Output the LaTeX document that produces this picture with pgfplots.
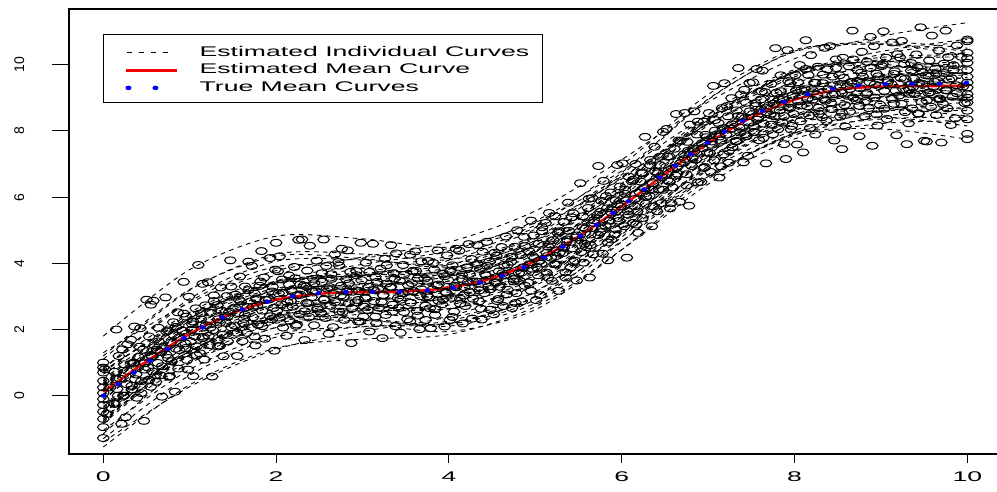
\documentclass[border=0pt]{standalone}
\usepackage{pgfplots}
\pgfplotsset{compat=1.18}
\usepackage{fontspec}
\setmainfont{Liberation Sans}
\usepackage{graphicx}
\pgfplotsset{
  indiv/.style={black, line width=0.9pt, dash pattern=on 4.5pt off 4.5pt, smooth, no markers,
    legend image code/.code={\path[draw=none,fill=none] (-10pt,-2pt) -- (51pt,-2pt); \draw[black, line width=0.9pt, dash pattern=on 5pt off 7pt] (1pt,-2pt) -- (47pt,-2pt);}},
  indivf/.style={indiv, forget plot},
  obs/.style={only marks, mark=o, mark size=3.4pt, mark options={xscale=1.7, line width=1pt, black}, forget plot},
}
\begin{document}
\begin{tikzpicture}
\path[use as bounding box] (-69pt,-37pt) rectangle (928pt,454pt);
\begin{axis}[
  at={(0pt,0pt)}, anchor=south west,
  scale only axis, width=932.6pt, height=445pt,
  xmin=-0.397, xmax=10.397, ymin=-1.761, ymax=11.683,
  axis line style={line width=1.1pt},
  tick pos=left, tick align=outside,
  xtick={0,2,4,6,8,10}, ytick={0,2,4,6,8,10},
  minor tick num=0,
  xtick style={line width=0.9pt, black, /pgfplots/major tick length=9pt},
  ytick style={line width=0.9pt, black, /pgfplots/major tick length=17pt},
  ticklabel style={font=\fontsize{14}{16}\selectfont},
  xticklabel={\scalebox{1.9}[1]{\pgfmathprintnumber[assume math mode=true]{\tick}}},
  yticklabel={\pgfmathprintnumber[assume math mode=true]{\tick}},
  xticklabel style={anchor=center, yshift=-18pt},
  yticklabel style={anchor=center, xshift=-45.5pt, rotate=90},
  legend cell align=left,
  legend style={at={(0.0365,0.9438)}, anchor=north west, draw=black, line width=0.8pt, fill=white,
    inner xsep=13pt, inner ysep=10pt, row sep=4.5pt, column sep=21pt,
    font=\fontsize{14}{16}\selectfont,
    nodes={inner sep=0pt, text height=12pt, text depth=1pt}},
]
% observed data points
\addplot[obs] coordinates {
(0,-1.28)(0,-0.95)(0,-0.70)(0,-0.48)(0,-0.28)(0,-0.10)(0,0.08)(0,0.25)(0,0.45)(0,0.70)(0,0.85)(0,1.00)
(0.21,-0.85)(0.26,-0.65)(0.12,-0.22)(0.23,0.00)(0.16,0.20)(0.27,0.35)(0.19,0.52)(0.13,0.72)(0.24,0.95)(0.18,1.20)(0.28,1.55)(0.15,2.00)
(0.47,-0.76)(0.39,-0.06)(0.33,0.19)(0.44,0.44)(0.38,0.64)(0.48,0.79)(0.35,0.97)(0.41,1.17)(0.46,1.39)(0.32,1.69)(0.43,2.04)(0.36,2.09)
(0.68,-0.03)(0.55,0.27)(0.61,0.42)(0.66,0.62)(0.52,0.85)(0.63,0.99)(0.56,1.19)(0.67,1.32)(0.59,1.52)(0.53,1.79)(0.64,2.05)(0.58,2.87)
(0.83,0.12)(0.76,0.57)(0.87,0.82)(0.79,1.04)(0.73,1.24)(0.84,1.42)(0.78,1.60)(0.88,1.77)(0.75,1.97)(0.81,2.22)(0.86,2.52)(0.72,2.97)
(1.04,0.59)(0.98,0.79)(1.08,1.22)(0.95,1.44)(1.01,1.64)(1.06,1.79)(0.92,1.96)(1.03,2.16)(0.96,2.39)(1.07,2.64)(0.99,2.99)(0.93,3.44)
(1.26,0.58)(1.12,1.28)(1.23,1.53)(1.16,1.78)(1.27,1.98)(1.19,2.13)(1.13,2.31)(1.24,2.51)(1.18,2.73)(1.28,3.03)(1.15,3.38)(1.21,3.43)
(1.39,1.19)(1.33,1.49)(1.44,1.64)(1.38,1.84)(1.48,2.07)(1.35,2.21)(1.41,2.41)(1.46,2.54)(1.32,2.74)(1.43,3.01)(1.36,3.27)(1.47,4.09)
(1.55,1.20)(1.61,1.65)(1.66,1.90)(1.52,2.12)(1.63,2.32)(1.56,2.50)(1.67,2.68)(1.59,2.85)(1.53,3.05)(1.64,3.30)(1.58,3.60)(1.68,4.05)
(1.76,1.52)(1.87,1.72)(1.79,2.15)(1.73,2.37)(1.84,2.57)(1.78,2.72)(1.88,2.89)(1.75,3.09)(1.81,3.32)(1.86,3.57)(1.72,3.92)(1.83,4.37)
(1.98,1.36)(2.08,2.06)(1.95,2.31)(2.01,2.56)(2.06,2.76)(1.92,2.91)(2.03,3.09)(1.96,3.29)(2.07,3.51)(1.99,3.81)(1.93,4.16)(2.04,4.21)
(2.12,1.81)(2.23,2.11)(2.16,2.26)(2.27,2.46)(2.19,2.69)(2.13,2.83)(2.24,3.03)(2.18,3.16)(2.28,3.36)(2.15,3.63)(2.21,3.89)(2.26,4.71)
(2.33,1.68)(2.44,2.13)(2.38,2.38)(2.48,2.60)(2.35,2.80)(2.41,2.98)(2.46,3.16)(2.32,3.33)(2.43,3.53)(2.36,3.78)(2.47,4.08)(2.39,4.53)
(2.61,1.87)(2.66,2.07)(2.52,2.50)(2.63,2.72)(2.56,2.92)(2.67,3.07)(2.59,3.24)(2.53,3.44)(2.64,3.67)(2.58,3.92)(2.68,4.27)(2.55,4.72)
(2.87,1.59)(2.79,2.29)(2.73,2.54)(2.84,2.79)(2.78,2.99)(2.88,3.14)(2.75,3.32)(2.81,3.52)(2.86,3.74)(2.72,4.04)(2.83,4.39)(2.76,4.44)
(3.08,1.94)(2.95,2.24)(3.01,2.39)(3.06,2.59)(2.92,2.82)(3.03,2.96)(2.96,3.16)(3.07,3.29)(2.99,3.49)(2.93,3.76)(3.04,4.02)(2.98,4.62)
(3.23,1.74)(3.16,2.19)(3.27,2.44)(3.19,2.66)(3.13,2.86)(3.24,3.04)(3.18,3.22)(3.28,3.39)(3.15,3.59)(3.21,3.84)(3.26,4.14)(3.12,4.59)
(3.44,1.90)(3.38,2.10)(3.48,2.53)(3.35,2.75)(3.41,2.95)(3.46,3.10)(3.32,3.27)(3.43,3.47)(3.36,3.70)(3.47,3.95)(3.39,4.30)(3.33,4.55)
(3.66,2.01)(3.52,2.31)(3.63,2.56)(3.56,2.81)(3.67,3.01)(3.59,3.16)(3.53,3.34)(3.64,3.54)(3.58,3.76)(3.68,4.06)(3.55,4.26)(3.61,4.36)
(3.79,2.04)(3.73,2.29)(3.84,2.44)(3.78,2.64)(3.88,2.87)(3.75,3.01)(3.81,3.21)(3.86,3.34)(3.72,3.54)(3.83,3.81)(3.76,4.07)(3.87,4.39)
(3.95,2.09)(4.01,2.29)(4.06,2.54)(3.92,2.76)(4.03,2.96)(3.96,3.14)(4.07,3.32)(3.99,3.49)(3.93,3.69)(4.04,3.94)(3.98,4.24)(4.08,4.44)
(4.16,2.18)(4.27,2.33)(4.19,2.71)(4.13,2.93)(4.24,3.13)(4.18,3.28)(4.28,3.45)(4.15,3.65)(4.21,3.88)(4.26,4.13)(4.12,4.38)(4.23,4.58)
(4.38,2.30)(4.48,2.60)(4.35,2.85)(4.41,3.10)(4.46,3.30)(4.32,3.45)(4.43,3.63)(4.36,3.83)(4.47,4.05)(4.39,4.35)(4.33,4.55)(4.44,4.65)
(4.52,2.46)(4.63,2.71)(4.56,2.86)(4.67,3.06)(4.59,3.29)(4.53,3.43)(4.64,3.63)(4.58,3.76)(4.68,3.96)(4.55,4.23)(4.61,4.49)(4.66,4.81)
(4.73,2.65)(4.84,2.85)(4.78,3.10)(4.88,3.32)(4.75,3.52)(4.81,3.70)(4.86,3.88)(4.72,4.05)(4.83,4.25)(4.76,4.50)(4.87,4.80)(4.79,5.00)
(5.01,2.89)(5.06,3.04)(4.92,3.42)(5.03,3.64)(4.96,3.84)(5.07,3.99)(4.99,4.16)(4.93,4.36)(5.04,4.59)(4.98,4.84)(5.08,5.09)(4.95,5.29)
(5.27,3.17)(5.19,3.47)(5.13,3.72)(5.24,3.97)(5.18,4.17)(5.28,4.32)(5.15,4.50)(5.21,4.70)(5.26,4.92)(5.12,5.22)(5.23,5.42)(5.16,5.52)
(5.48,3.48)(5.35,3.73)(5.41,3.88)(5.46,4.08)(5.32,4.31)(5.43,4.45)(5.36,4.65)(5.47,4.78)(5.39,4.98)(5.33,5.25)(5.44,5.51)(5.38,5.83)
(5.63,3.57)(5.56,4.02)(5.67,4.27)(5.59,4.49)(5.53,4.69)(5.64,4.87)(5.58,5.05)(5.68,5.22)(5.55,5.42)(5.61,5.67)(5.66,5.97)(5.52,6.42)
(5.84,4.09)(5.78,4.29)(5.88,4.72)(5.75,4.94)(5.81,5.14)(5.86,5.29)(5.72,5.46)(5.83,5.66)(5.76,5.89)(5.87,6.14)(5.79,6.49)(5.73,6.94)
(6.06,4.17)(5.92,4.87)(6.03,5.12)(5.96,5.37)(6.07,5.57)(5.99,5.72)(5.93,5.90)(6.04,6.10)(5.98,6.32)(6.08,6.62)(5.95,6.97)(6.01,7.02)
(6.19,4.92)(6.13,5.22)(6.24,5.37)(6.18,5.57)(6.28,5.80)(6.15,5.94)(6.21,6.14)(6.26,6.27)(6.12,6.47)(6.23,6.74)(6.16,7.00)(6.27,7.82)
(6.35,5.12)(6.41,5.57)(6.46,5.82)(6.32,6.04)(6.43,6.24)(6.36,6.42)(6.47,6.60)(6.39,6.77)(6.33,6.97)(6.44,7.22)(6.38,7.52)(6.48,7.97)
(6.56,5.66)(6.67,5.86)(6.59,6.29)(6.53,6.51)(6.64,6.71)(6.58,6.86)(6.68,7.03)(6.55,7.23)(6.61,7.46)(6.66,7.71)(6.52,8.06)(6.63,8.51)
(6.78,5.74)(6.88,6.44)(6.75,6.69)(6.81,6.94)(6.86,7.14)(6.72,7.29)(6.83,7.47)(6.76,7.67)(6.87,7.89)(6.79,8.19)(6.73,8.54)(6.84,8.59)
(6.92,6.46)(7.03,6.76)(6.96,6.91)(7.07,7.11)(6.99,7.34)(6.93,7.48)(7.04,7.68)(6.98,7.81)(7.08,8.01)(6.95,8.28)(7.01,8.54)(7.06,9.36)
(7.13,6.59)(7.24,7.04)(7.18,7.29)(7.28,7.51)(7.15,7.71)(7.21,7.89)(7.26,8.07)(7.12,8.24)(7.23,8.44)(7.16,8.69)(7.27,8.99)(7.19,9.44)
(7.41,7.05)(7.46,7.25)(7.32,7.68)(7.43,7.90)(7.36,8.10)(7.47,8.25)(7.39,8.42)(7.33,8.62)(7.44,8.85)(7.38,9.10)(7.48,9.45)(7.35,9.90)
(7.67,7.02)(7.59,7.72)(7.53,7.97)(7.64,8.22)(7.58,8.42)(7.68,8.57)(7.55,8.75)(7.61,8.95)(7.66,9.17)(7.52,9.47)(7.63,9.82)(7.56,9.87)
(7.88,7.60)(7.75,7.90)(7.81,8.05)(7.86,8.25)(7.72,8.48)(7.83,8.62)(7.76,8.82)(7.87,8.95)(7.79,9.15)(7.73,9.42)(7.84,9.68)(7.78,10.50)
(8.03,7.59)(7.96,8.04)(8.07,8.29)(7.99,8.51)(7.93,8.71)(8.04,8.89)(7.98,9.07)(8.08,9.24)(7.95,9.44)(8.01,9.69)(8.06,9.99)(7.92,10.44)
(8.24,7.89)(8.18,8.09)(8.28,8.52)(8.15,8.74)(8.21,8.94)(8.26,9.09)(8.12,9.26)(8.23,9.46)(8.16,9.69)(8.27,9.94)(8.19,10.29)(8.13,10.74)
(8.46,7.71)(8.32,8.41)(8.43,8.66)(8.36,8.91)(8.47,9.11)(8.39,9.26)(8.33,9.44)(8.44,9.64)(8.38,9.86)(8.48,10.16)(8.35,10.51)(8.41,10.56)
(8.59,8.13)(8.53,8.43)(8.64,8.58)(8.58,8.78)(8.68,9.01)(8.55,9.15)(8.61,9.35)(8.66,9.48)(8.52,9.68)(8.63,9.95)(8.56,10.21)(8.67,11.03)
(8.75,7.84)(8.81,8.44)(8.86,8.69)(8.72,8.91)(8.83,9.11)(8.76,9.29)(8.87,9.47)(8.79,9.64)(8.73,9.84)(8.84,10.09)(8.78,10.39)(8.88,10.84)
(8.96,8.16)(9.07,8.36)(8.99,8.79)(8.93,9.01)(9.04,9.21)(8.98,9.36)(9.08,9.53)(8.95,9.73)(9.01,9.96)(9.06,10.21)(8.92,10.56)(9.03,11.01)
(9.18,7.87)(9.28,8.57)(9.15,8.82)(9.21,9.07)(9.26,9.27)(9.12,9.42)(9.23,9.60)(9.16,9.80)(9.27,10.02)(9.19,10.32)(9.13,10.67)(9.24,10.72)
(9.32,8.23)(9.43,8.53)(9.36,8.68)(9.47,8.88)(9.39,9.11)(9.33,9.25)(9.44,9.45)(9.38,9.58)(9.48,9.78)(9.35,10.05)(9.41,10.31)(9.46,11.13)
(9.53,7.68)(9.64,8.48)(9.58,8.73)(9.68,8.95)(9.55,9.15)(9.61,9.33)(9.66,9.51)(9.52,9.68)(9.63,9.88)(9.56,10.13)(9.67,10.43)(9.59,10.88)
(9.81,8.18)(9.86,8.38)(9.72,8.81)(9.83,9.03)(9.76,9.23)(9.87,9.38)(9.79,9.55)(9.73,9.75)(9.84,9.98)(9.78,10.23)(9.88,10.58)(9.75,11.03)
(10,7.91)(10,8.61)(10,8.86)(10,9.11)(10,9.31)(10,9.46)(10,9.64)(10,9.84)(10,10.06)(10,10.36)(10,10.71)(10,10.76)(10,8.35)(10,9.00)(10,10.20)(10,7.75)
(8.55,7.45)(8.90,7.55)(9.30,7.60)(9.70,7.65)(8.10,7.35)(7.90,7.15)(9.50,7.70)(2.00,4.62)(2.30,4.72)(1.10,3.95)(0.50,2.90)(0.55,2.75)
};
\addplot[obs] coordinates {
(0.04,-0.55)(0.13,-0.25)(0.17,0.00)(0.08,0.25)(0.15,0.50)(0.02,0.80)
(0.24,0.00)(0.33,0.30)(0.37,0.50)(0.28,0.75)(0.35,1.00)(0.22,1.40)
(0.44,0.08)(0.53,0.48)(0.57,0.73)(0.48,0.98)(0.55,1.23)(0.42,1.48)
(0.77,0.59)(0.68,0.89)(0.75,1.14)(0.62,1.39)(0.64,1.64)(0.73,1.94)
(0.97,1.08)(0.88,1.38)(0.95,1.58)(0.82,1.83)(0.84,2.08)(0.93,2.48)
(1.17,1.09)(1.08,1.49)(1.15,1.74)(1.02,1.99)(1.04,2.24)(1.13,2.49)
(1.35,1.51)(1.22,1.81)(1.24,2.06)(1.33,2.31)(1.37,2.56)(1.28,2.86)
(1.55,1.90)(1.42,2.20)(1.44,2.40)(1.53,2.65)(1.57,2.90)(1.48,3.30)
(1.75,1.79)(1.62,2.19)(1.64,2.44)(1.73,2.69)(1.77,2.94)(1.68,3.19)
(1.84,2.10)(1.93,2.40)(1.97,2.65)(1.88,2.90)(1.95,3.15)(1.82,3.45)
(2.04,2.36)(2.13,2.66)(2.17,2.86)(2.08,3.11)(2.15,3.36)(2.02,3.76)
(2.24,2.15)(2.33,2.55)(2.37,2.80)(2.28,3.05)(2.35,3.30)(2.22,3.55)
(2.57,2.35)(2.48,2.65)(2.55,2.90)(2.42,3.15)(2.44,3.40)(2.53,3.70)
(2.77,2.53)(2.68,2.83)(2.75,3.03)(2.62,3.28)(2.64,3.53)(2.73,3.93)
(2.97,2.24)(2.88,2.64)(2.95,2.89)(2.82,3.14)(2.84,3.39)(2.93,3.64)
(3.15,2.39)(3.02,2.69)(3.04,2.94)(3.13,3.19)(3.17,3.44)(3.08,3.74)
(3.35,2.54)(3.22,2.84)(3.24,3.04)(3.33,3.29)(3.37,3.54)(3.28,3.94)
(3.55,2.25)(3.42,2.65)(3.44,2.90)(3.53,3.15)(3.57,3.40)(3.48,3.65)
(3.64,2.42)(3.73,2.72)(3.77,2.97)(3.68,3.22)(3.75,3.47)(3.62,3.77)
(3.84,2.61)(3.93,2.91)(3.97,3.11)(3.88,3.36)(3.95,3.61)(3.82,4.01)
(4.04,2.38)(4.13,2.78)(4.17,3.03)(4.08,3.28)(4.15,3.53)(4.02,3.78)
(4.37,2.63)(4.28,2.93)(4.35,3.18)(4.22,3.43)(4.24,3.68)(4.33,3.98)
(4.57,2.92)(4.48,3.22)(4.55,3.42)(4.42,3.67)(4.44,3.92)(4.53,4.32)
(4.77,2.80)(4.68,3.20)(4.75,3.45)(4.62,3.70)(4.64,3.95)(4.73,4.20)
(4.95,3.17)(4.82,3.47)(4.84,3.72)(4.93,3.97)(4.97,4.22)(4.88,4.52)
(5.15,3.57)(5.02,3.87)(5.04,4.07)(5.13,4.32)(5.17,4.57)(5.08,4.97)
(5.35,3.57)(5.22,3.97)(5.24,4.22)(5.33,4.47)(5.37,4.72)(5.28,4.97)
(5.44,4.04)(5.53,4.34)(5.57,4.59)(5.48,4.84)(5.55,5.09)(5.42,5.39)
(5.64,4.55)(5.73,4.85)(5.77,5.05)(5.68,5.30)(5.75,5.55)(5.62,5.95)
(5.84,4.63)(5.93,5.03)(5.97,5.28)(5.88,5.53)(5.95,5.78)(5.82,6.03)
(6.17,5.17)(6.08,5.47)(6.15,5.72)(6.02,5.97)(6.04,6.22)(6.13,6.52)
(6.37,5.72)(6.28,6.02)(6.35,6.22)(6.22,6.47)(6.24,6.72)(6.33,7.12)
(6.57,5.82)(6.48,6.22)(6.55,6.47)(6.42,6.72)(6.44,6.97)(6.53,7.22)
(6.75,6.35)(6.62,6.65)(6.64,6.90)(6.73,7.15)(6.77,7.40)(6.68,7.70)
(6.95,6.88)(6.82,7.18)(6.84,7.38)(6.93,7.63)(6.97,7.88)(6.88,8.28)
(7.15,6.93)(7.02,7.33)(7.04,7.58)(7.13,7.83)(7.17,8.08)(7.08,8.33)
(7.24,7.40)(7.33,7.70)(7.37,7.95)(7.28,8.20)(7.35,8.45)(7.22,8.75)
(7.44,7.84)(7.53,8.14)(7.57,8.34)(7.48,8.59)(7.55,8.84)(7.42,9.24)
(7.64,7.79)(7.73,8.19)(7.77,8.44)(7.68,8.69)(7.75,8.94)(7.62,9.19)
(7.97,8.15)(7.88,8.45)(7.95,8.70)(7.82,8.95)(7.84,9.20)(7.93,9.50)
(8.17,8.47)(8.08,8.77)(8.15,8.97)(8.02,9.22)(8.04,9.47)(8.13,9.87)
(8.37,8.30)(8.28,8.70)(8.35,8.95)(8.22,9.20)(8.24,9.45)(8.33,9.70)
(8.55,8.55)(8.42,8.85)(8.44,9.10)(8.53,9.35)(8.57,9.60)(8.48,9.90)
(8.75,8.76)(8.62,9.06)(8.64,9.26)(8.73,9.51)(8.77,9.76)(8.68,10.16)
(8.95,8.50)(8.82,8.90)(8.84,9.15)(8.93,9.40)(8.97,9.65)(8.88,9.90)
(9.04,8.67)(9.13,8.97)(9.17,9.22)(9.08,9.47)(9.15,9.72)(9.02,10.02)
(9.24,8.82)(9.33,9.12)(9.37,9.32)(9.28,9.57)(9.35,9.82)(9.22,10.22)
(9.44,8.52)(9.53,8.92)(9.57,9.17)(9.48,9.42)(9.55,9.67)(9.42,9.92)
(9.77,8.68)(9.68,8.98)(9.75,9.23)(9.62,9.48)(9.64,9.73)(9.73,10.03)
(9.97,8.84)(9.88,9.14)(9.95,9.34)(9.82,9.59)(9.84,9.84)(9.93,10.24)
};
% estimated individual curves
\addplot[indiv] coordinates {(0,-1.55)(1,0.33)(2,1.44)(3,1.71)(4,1.85)(5,2.69)(6,4.41)(7,6.39)(8,7.76)(9,8.22)(10,8.31)};
\addlegendentry{\scalebox{1.9}[1]{Estimated Individual Curves}}
\addplot[indivf] coordinates {(0,-0.75)(1,1.26)(2,2.27)(3,2.19)(4,1.94)(5,2.60)(6,4.41)(7,6.55)(8,7.90)(9,8.06)(10,7.75)};
\addplot[indivf] coordinates {(0,-1.40)(1,0.27)(2,1.40)(3,1.94)(4,2.39)(5,3.33)(6,4.88)(7,6.62)(8,7.93)(9,8.61)(10,9.02)};
\addplot[indivf] coordinates {(0,-0.85)(1,1.24)(2,2.33)(3,2.33)(4,2.16)(5,2.90)(6,4.79)(7,7.01)(8,8.44)(9,8.68)(10,8.45)};
\addplot[indivf] coordinates {(0,-0.50)(1,1.05)(2,2.06)(3,2.48)(4,2.81)(5,3.63)(6,5.06)(7,6.68)(8,7.87)(9,8.43)(10,8.72)};
\addplot[indivf] coordinates {(0,-0.80)(1,1.33)(2,2.46)(3,2.50)(4,2.37)(5,3.15)(6,5.08)(7,7.34)(8,8.81)(9,9.09)(10,8.90)};
\addplot[indivf] coordinates {(0,-0.50)(1,1.34)(2,2.41)(3,2.64)(4,2.74)(5,3.54)(6,5.22)(7,7.16)(8,8.49)(9,8.91)(10,8.96)};
\addplot[indivf] coordinates {(0,0.00)(1,1.76)(2,2.75)(3,2.90)(4,2.92)(5,3.64)(6,5.24)(7,7.10)(8,8.35)(9,8.69)(10,8.66)};
\addplot[indivf] coordinates {(0,-0.70)(1,1.47)(2,2.64)(3,2.72)(4,2.63)(5,3.45)(6,5.42)(7,7.72)(8,9.23)(9,9.55)(10,9.40)};
\addplot[indivf] coordinates {(0,-0.25)(1,1.34)(2,2.39)(3,2.85)(4,3.22)(5,4.08)(6,5.55)(7,7.21)(8,8.44)(9,9.04)(10,9.37)};
\addplot[indivf] coordinates {(0,-0.40)(1,1.23)(2,2.32)(3,2.82)(4,3.23)(5,4.13)(6,5.64)(7,7.34)(8,8.61)(9,9.25)(10,9.62)};
\addplot[indivf] coordinates {(0,0.05)(1,1.85)(2,2.88)(3,3.07)(4,3.13)(5,3.89)(6,5.53)(7,7.43)(8,8.72)(9,9.10)(10,9.11)};
\addplot[indivf] coordinates {(0,-0.50)(1,1.42)(2,2.57)(3,2.88)(4,3.06)(5,3.94)(6,5.70)(7,7.72)(8,9.13)(9,9.63)(10,9.76)};
\addplot[indivf] coordinates {(0,0.15)(1,2.20)(2,3.25)(3,3.21)(4,3.00)(5,3.70)(6,5.55)(7,7.73)(8,9.12)(9,9.32)(10,9.05)};
\addplot[indivf] coordinates {(0,0.00)(1,2.09)(2,3.18)(3,3.18)(4,3.01)(5,3.75)(6,5.64)(7,7.86)(8,9.29)(9,9.53)(10,9.30)};
\addplot[indivf] coordinates {(0,0.45)(1,1.96)(2,2.93)(3,3.31)(4,3.60)(5,4.38)(6,5.77)(7,7.35)(8,8.50)(9,9.02)(10,9.27)};
\addplot[indivf] coordinates {(0,-0.10)(1,1.78)(2,2.89)(3,3.16)(4,3.30)(5,4.14)(6,5.86)(7,7.84)(8,9.21)(9,9.67)(10,9.76)};
\addplot[indivf] coordinates {(0,0.15)(1,1.74)(2,2.79)(3,3.25)(4,3.62)(5,4.48)(6,5.95)(7,7.61)(8,8.84)(9,9.44)(10,9.77)};
\addplot[indivf] coordinates {(0,0.40)(1,1.95)(2,2.96)(3,3.38)(4,3.71)(5,4.53)(6,5.96)(7,7.58)(8,8.77)(9,9.33)(10,9.62)};
\addplot[indivf] coordinates {(0,-0.15)(1,2.02)(2,3.19)(3,3.27)(4,3.18)(5,4.00)(6,5.97)(7,8.27)(8,9.78)(9,10.10)(10,9.95)};
\addplot[indivf] coordinates {(0,0.70)(1,2.46)(2,3.45)(3,3.60)(4,3.62)(5,4.34)(6,5.94)(7,7.80)(8,9.05)(9,9.39)(10,9.36)};
\addplot[indivf] coordinates {(0,0.20)(1,2.33)(2,3.46)(3,3.50)(4,3.37)(5,4.15)(6,6.08)(7,8.34)(8,9.81)(9,10.09)(10,9.90)};
\addplot[indivf] coordinates {(0,0.50)(1,2.34)(2,3.41)(3,3.64)(4,3.74)(5,4.54)(6,6.22)(7,8.16)(8,9.49)(9,9.91)(10,9.96)};
\addplot[indivf] coordinates {(0,0.80)(1,2.85)(2,3.90)(3,3.86)(4,3.65)(5,4.35)(6,6.20)(7,8.38)(8,9.77)(9,9.97)(10,9.70)};
\addplot[indivf] coordinates {(0,0.30)(1,1.97)(2,3.10)(3,3.64)(4,4.09)(5,5.03)(6,6.58)(7,8.32)(8,9.63)(9,10.31)(10,10.72)};
\addplot[indivf] coordinates {(0,1.20)(1,3.21)(2,4.22)(3,4.14)(4,3.89)(5,4.55)(6,6.36)(7,8.50)(8,9.85)(9,10.01)(10,9.70)};
\addplot[indivf] coordinates {(0,0.75)(1,2.38)(2,3.47)(3,3.97)(4,4.38)(5,5.28)(6,6.79)(7,8.49)(8,9.76)(9,10.40)(10,10.77)};
\addplot[indivf] coordinates {(0,1.10)(1,3.19)(2,4.28)(3,4.28)(4,4.11)(5,4.85)(6,6.74)(7,8.96)(8,10.39)(9,10.63)(10,10.40)};
\addplot[indivf] coordinates {(0,0.85)(1,2.52)(2,3.65)(3,4.19)(4,4.64)(5,5.58)(6,7.13)(7,8.87)(8,10.18)(9,10.86)(10,11.27)};
\addplot[indivf] coordinates {(0,1.80)(1,3.81)(2,4.82)(3,4.74)(4,4.49)(5,5.15)(6,6.96)(7,9.10)(8,10.45)(9,10.61)(10,10.30)};
\addplot[indivf] coordinates {(0,-0.65)(1,0.98)(2,2.07)(3,2.57)(4,2.98)(5,3.88)(6,5.39)(7,7.09)(8,8.36)(9,9.00)(10,9.37)};
\addplot[indivf] coordinates {(0,0.35)(1,1.94)(2,2.99)(3,3.45)(4,3.82)(5,4.68)(6,6.15)(7,7.81)(8,9.04)(9,9.64)(10,9.97)};
\addplot[indivf] coordinates {(0,-0.45)(1,1.35)(2,2.38)(3,2.57)(4,2.63)(5,3.39)(6,5.03)(7,6.93)(8,8.22)(9,8.60)(10,8.61)};
\addplot[indivf] coordinates {(0,0.45)(1,2.33)(2,3.44)(3,3.71)(4,3.85)(5,4.69)(6,6.41)(7,8.39)(8,9.76)(9,10.22)(10,10.31)};
\addplot[indivf] coordinates {(0,-1.30)(1,0.62)(2,1.77)(3,2.08)(4,2.26)(5,3.14)(6,4.90)(7,6.92)(8,8.33)(9,8.83)(10,8.96)};
\addplot[indivf] coordinates {(0,1.30)(1,2.81)(2,3.78)(3,4.16)(4,4.45)(5,5.23)(6,6.62)(7,8.20)(8,9.35)(9,9.87)(10,10.12)};
\addplot[indivf] coordinates {(0,-1.05)(1,0.79)(2,1.86)(3,2.09)(4,2.19)(5,2.99)(6,4.67)(7,6.61)(8,7.94)(9,8.36)(10,8.41)};
\addplot[indivf] coordinates {(0,-1.15)(1,1.02)(2,2.19)(3,2.27)(4,2.18)(5,3.00)(6,4.97)(7,7.27)(8,8.78)(9,9.10)(10,8.95)};
\addplot[indivf] coordinates {(0,-0.35)(1,1.20)(2,2.21)(3,2.63)(4,2.96)(5,3.78)(6,5.21)(7,6.83)(8,8.02)(9,8.58)(10,8.87)};
\addplot[indivf] coordinates {(0,-0.55)(1,1.58)(2,2.71)(3,2.75)(4,2.62)(5,3.40)(6,5.33)(7,7.59)(8,9.06)(9,9.34)(10,9.15)};
\addplot[indivf] coordinates {(0,0.32)(1,2.08)(2,3.07)(3,3.22)(4,3.24)(5,3.96)(6,5.56)(7,7.42)(8,8.67)(9,9.01)(10,8.98)};
\addplot[indivf] coordinates {(0,-0.32)(1,1.35)(2,2.48)(3,3.02)(4,3.47)(5,4.41)(6,5.96)(7,7.70)(8,9.01)(9,9.69)(10,10.10)};
\addplot[indivf] coordinates {(0,0.22)(1,2.06)(2,3.13)(3,3.36)(4,3.46)(5,4.26)(6,5.94)(7,7.88)(8,9.21)(9,9.63)(10,9.68)};
\addplot[indivf] coordinates {(0,0.65)(1,2.20)(2,3.21)(3,3.63)(4,3.96)(5,4.78)(6,6.21)(7,7.83)(8,9.02)(9,9.58)(10,9.87)};
\addplot[indivf] coordinates {(0,0.38)(1,2.26)(2,3.37)(3,3.64)(4,3.78)(5,4.62)(6,6.34)(7,8.32)(8,9.69)(9,10.15)(10,10.24)};
\addplot[indivf] coordinates {(0,0.75)(1,2.34)(2,3.39)(3,3.85)(4,4.22)(5,5.08)(6,6.55)(7,8.21)(8,9.44)(9,10.04)(10,10.37)};
\addplot[indivf] coordinates {(0,0.80)(1,2.93)(2,4.06)(3,4.10)(4,3.97)(5,4.75)(6,6.68)(7,8.94)(8,10.41)(9,10.69)(10,10.50)};
\addplot[indivf] coordinates {(0,-0.75)(1,1.30)(2,2.35)(3,2.31)(4,2.10)(5,2.80)(6,4.65)(7,6.83)(8,8.22)(9,8.42)(10,8.15)};
% estimated mean curve
\addplot[red, line width=2.4pt, smooth, no markers,
  legend image code/.code={\path[draw=none,fill=none] (-10pt,-2pt) -- (51pt,-2pt); \draw[red, solid, line width=2.4pt] (0pt,-2pt) -- (51pt,-2pt);}]
  coordinates {(0,0.12)(0.5,1.04)(1,1.87)(1.5,2.50)(2,2.90)(2.5,3.08)(3,3.13)(3.5,3.15)(4,3.26)(4.5,3.55)(5,4.07)(5.5,4.81)(6,5.72)(6.5,6.70)(7,7.63)(7.5,8.40)(8,8.94)(8.5,9.24)(9,9.34)(9.5,9.35)(10,9.37)};
\addlegendentry{\scalebox{1.9}[1]{Estimated Mean Curve}}
% true mean curve (dotted line: dots at their positions along the curve)
\addplot[only marks, mark=*, mark size=1.85pt, mark options={xscale=1.4, blue, draw=none, fill=blue},
  legend image code/.code={\path[draw=none,fill=none] (-10pt,-2pt) -- (51pt,-2pt); \fill[blue] (2pt,-2pt) ellipse [x radius=2.6pt, y radius=1.85pt]; \fill[blue] (29pt,-2pt) ellipse [x radius=2.6pt, y radius=1.85pt];}]
  coordinates {(0,0)(0.174,0.347)(0.355,0.703)(0.54,1.054)(0.74,1.414)(0.934,1.738)(1.15,2.063)(1.38,2.362)(1.61,2.609)(1.90,2.846)(2.19,3.004)(2.49,3.097)(2.81,3.136)(3.118,3.142)(3.434,3.146)(3.75,3.178)(4.05,3.262)(4.36,3.421)(4.62,3.624)(4.87,3.882)(5.10,4.174)(5.32,4.499)(5.52,4.829)(5.71,5.168)(5.90,5.526)(6.08,5.878)(6.26,6.237)(6.44,6.596)(6.62,6.951)(6.80,7.294)(6.99,7.639)(7.19,7.978)(7.40,8.299)(7.63,8.605)(7.88,8.880)(8.15,9.107)(8.44,9.273)(8.74,9.372)(9.05,9.416)(9.36,9.425)(9.68,9.428)(9.99,9.454)};
\addlegendentry{\scalebox{1.9}[1]{True Mean Curves}}
\end{axis}
\end{tikzpicture}
\end{document}
